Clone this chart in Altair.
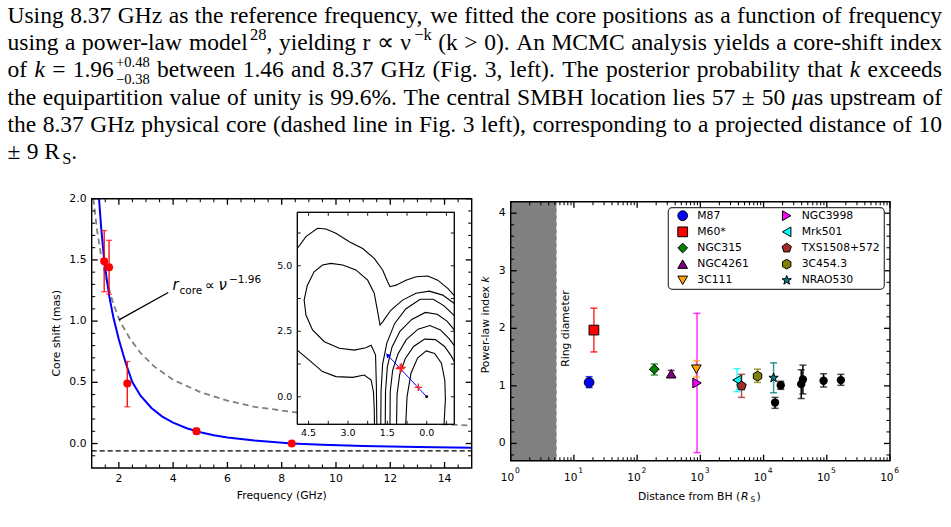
import altair as alt
import pandas as pd

SANS = "DejaVu Sans"
SERIF = "Liberation Serif, Tinos, Times New Roman, Nimbus Roman, Nimbus Roman No9 L, Times, serif"

# ------------------------------------------------------------------ paragraph
para_lines = [
    [("Using 8.37 GHz as the reference frequency, we fitted the core positions as a function of frequency", "n")],
    [("using a power-law model", "n"), ("28", "sup"), (", yielding r \u221d \u03bd", "n"), ("\u2212k", "sup"),
     (" (k > 0). An MCMC analysis yields a core-shift index", "n")],
    [("of ", "n"), ("k", "i"), (" = 1.96", "n"), ("+0.48", "sup2"), ("\u22120.38", "sub2"),
     (" between 1.46 and 8.37 GHz (Fig. 3, left). The posterior probability that ", "n"), ("k", "i"), (" exceeds", "n")],
    [("the equipartition value of unity is 99.6%. The central SMBH location lies 57 \u00b1 50 ", "n"), ("\u03bc", "i"),
     ("as upstream of", "n")],
    [("the 8.37 GHz physical core (dashed line in Fig. 3 left), corresponding to a projected distance of 10", "n")],
    [("\u00b1 9 R", "n"), ("S", "sub"), (".", "n")],
]

# ------------------------------------------------------------------ left panel data
freq_ghz = [1.46, 1.64, 2.31, 4.86, 8.37]
core_shift = [1.49, 1.44, 0.49, 0.10, 0.00]
shift_lo = [1.24, 1.22, 0.30, 0.075, -0.008]
shift_hi = [1.74, 1.66, 0.67, 0.125, 0.008]

fit_x = [1.27, 1.35, 1.45, 1.55, 1.65, 1.8, 2.0, 2.25, 2.5, 2.8, 3.2, 3.6, 4.0, 4.5, 5.0, 5.5, 6.0, 7.0, 8.37, 9.5, 11.0, 13.0, 15.0]
fit_y = [2.00, 1.76, 1.52, 1.35, 1.20, 1.03, 0.85, 0.66, 0.50, 0.39, 0.29, 0.22, 0.17, 0.125, 0.092, 0.068, 0.050, 0.024, 0.0, -0.011, -0.021, -0.029, -0.035]

ref_x = [1.06, 1.2, 1.37, 1.6, 1.8, 2.04, 2.4, 2.8, 3.3, 4.0, 5.0, 6.0, 7.0, 8.0, 9.0, 10.0, 11.0, 12.0, 13.0, 14.0, 15.0]
ref_y = [2.00, 1.74, 1.50, 1.29, 1.14, 1.00, 0.86, 0.74, 0.63, 0.52, 0.42, 0.35, 0.30, 0.27, 0.24, 0.215, 0.197, 0.182, 0.168, 0.156, 0.147]

bh_offset = -0.06

# inset contours (RA offset, Dec offset in mas)
contours = {
    "A1": ([4.93, 4.60, 4.16, 3.84, 3.46, 2.95, 2.44, 2.00, 1.68, 1.49, 1.40, 1.17, 0.79, 0.41, -0.04, -0.42, -0.80, -1.05],
           [5.66, 6.11, 6.43, 6.40, 6.24, 5.92, 5.66, 5.28, 4.84, 4.39, 4.20, 4.26, 4.45, 4.58, 4.61, 4.45, 4.14, 3.86]),
    "A2": ([4.93, 4.48, 3.97, 3.46, 2.82, 2.38, 2.12, 2.03, 2.00, 1.99],
           [1.78, 1.40, 0.96, 0.77, 0.74, 0.83, 0.64, 0.19, -0.44, -1.05]),
    "B": ([1.90, 1.92, 1.95, 2.12, 2.32, 2.76, 3.33, 3.90, 4.35, 4.60, 4.67, 4.55, 4.29, 3.97, 3.65, 3.20, 2.70, 2.25,
           2.00, 1.87, 1.78, 1.68, 1.36, 0.92, 0.41, -0.10, -0.61, -1.05],
          [-1.05, 0.50, 1.60, 1.97, 1.87, 1.78, 1.85, 2.10, 2.55, 3.12, 3.69, 4.25, 4.77, 5.03, 5.09, 5.03, 4.84, 4.45,
           3.95, 3.25, 2.74, 2.86, 3.31, 3.69, 3.95, 4.03, 3.88, 3.56]),
    "C": ([1.75, 1.74, 1.68, 1.52, 1.22, 0.80, 0.25, -0.25, -0.65, -1.05],
          [-1.05, 0.2, 1.25, 2.05, 2.80, 3.35, 3.72, 3.72, 3.48, 3.10]),
    "D": ([1.58, 1.57, 1.50, 1.32, 1.02, 0.57, 0.05, -0.40, -0.78, -1.05],
          [-1.05, 0.2, 1.15, 1.90, 2.50, 2.95, 3.22, 3.15, 2.88, 2.55]),
    "E": ([1.40, 1.39, 1.30, 1.10, 0.78, 0.33, -0.12, -0.52, -0.85, -1.05],
          [-1.05, 0.2, 1.00, 1.62, 2.18, 2.58, 2.72, 2.55, 2.22, 1.95]),
    "F": ([1.15, 1.13, 1.03, 0.82, 0.50, 0.08, -0.33, -0.68, -0.92, -1.05],
          [-1.05, 0.1, 0.85, 1.45, 1.92, 2.20, 2.18, 1.92, 1.58, 1.35]),
    "G": ([0.80, 0.75, 0.60, 0.35, 0.02, -0.30, -0.56, -0.69, -0.71, -0.66],
          [-1.05, 0.0, 0.90, 1.48, 1.75, 1.65, 1.28, 0.62, -0.10, -1.05]),
}
arrow_x = [0.0, 1.49]
arrow_y = [0.0, 1.59]
cross_x = [1.01, 0.97, 0.32]
cross_y = [1.08, 1.12, 0.36]

# ------------------------------------------------------------------ right panel data
src_names = ["M87", "M60*", "NGC315", "NGC4261", "3C111", "NGC3998", "Mrk501", "TXS1508+572", "3C454.3", "NRAO530"]
src_dist = [17.4, 20.7, 187, 346, 865, 886, 3800, 4490, 8030, 14400]
src_k = [1.06, 1.97, 1.29, 1.21, 1.29, 1.05, 1.10, 1.00, 1.17, 1.14]
src_lo = [0.97, 1.59, 1.19, 1.16, 1.15, -0.16, 0.90, 0.80, 1.06, 0.88]
src_hi = [1.16, 2.35, 1.38, 1.27, 1.44, 2.26, 1.30, 1.20, 1.29, 1.40]

oth_dist = [15200, 18700, 39400, 41900, 89000, 167000]
oth_k = [0.71, 1.01, 1.03, 1.11, 1.09, 1.10]
oth_lo = [0.61, 0.94, 0.78, 0.86, 0.98, 1.01]
oth_hi = [0.80, 1.08, 1.28, 1.36, 1.21, 1.20]

ring_diameter = 5.35

src_color = {"M87": "#0000ff", "M60*": "#ff0000", "NGC315": "#008000", "NGC4261": "#800080", "3C111": "#ffa500",
             "NGC3998": "#ff00ff", "Mrk501": "#00ffff", "TXS1508+572": "#a52a2a", "3C454.3": "#808000",
             "NRAO530": "#008080"}
PENT = "M0,-1L0.951,-0.309L0.588,0.809L-0.588,0.809L-0.951,-0.309Z"
HEX = "M0,-1L0.866,-0.5L0.866,0.5L0,1L-0.866,0.5L-0.866,-0.5Z"
STAR = ("M0,-1L0.235,-0.324L0.951,-0.309L0.380,0.124L0.588,0.809L0,0.4L-0.588,0.809"
        "L-0.380,0.124L-0.951,-0.309L-0.235,-0.324Z")
src_shape = {"M87": "circle", "M60*": "square", "NGC315": "diamond", "NGC4261": "triangle-up",
             "3C111": "triangle-down", "NGC3998": "triangle-right", "Mrk501": "triangle-left",
             "TXS1508+572": PENT, "3C454.3": HEX, "NRAO530": STAR}

# ------------------------------------------------------------------ paragraph layout
TW = {' ': 250, '%': 833, '(': 333, ')': 333, '+': 564, ',': 250, '-': 333, '.': 250, '=': 564, '>': 564,
      'A': 722, 'B': 667, 'C': 667, 'D': 722, 'E': 611, 'F': 556, 'G': 722, 'H': 722, 'I': 333, 'J': 389,
      'K': 722, 'L': 611, 'M': 889, 'N': 722, 'O': 722, 'P': 556, 'Q': 722, 'R': 667, 'S': 556, 'T': 611,
      'U': 722, 'V': 722, 'W': 944, 'X': 722, 'Y': 722, 'Z': 611,
      'a': 444, 'b': 500, 'c': 444, 'd': 500, 'e': 444, 'f': 333, 'g': 500, 'h': 500, 'i': 278, 'j': 278,
      'k': 500, 'l': 278, 'm': 778, 'n': 500, 'o': 500, 'p': 500, 'q': 500, 'r': 333, 's': 389, 't': 278,
      'u': 500, 'v': 500, 'w': 722, 'x': 500, 'y': 500, 'z': 444,
      '\u00b1': 564, '\u2212': 564, '\u221d': 713, '\u03bd': 500, '\u03bc': 500}
FS = 23.5
LEFT, RIGHT = 7.5, 942.0
BASE0, LEAD = 23.0, 27.2
SCRIPT_GAP = 2.2
STY = {"n": (1.0, 0.0), "i": (1.0, 0.0), "sup": (0.7, 0.42), "sup2": (0.62, 0.45), "sub2": (0.62, -0.27),
       "sub": (0.7, -0.2)}


def cw(ch, st):
    if st == "i" and ch == "k":
        return 444
    return TW.get(ch, 500)


rows = []
for li, line in enumerate(para_lines):
    words = [[]]
    for txt, st in line:
        parts = txt.split(" ")
        for j, p in enumerate(parts):
            if j > 0:
                words.append([])
            if p:
                words[-1].append((p, st))
    words = [w for w in words if w]
    laid = []
    for w in words:
        x = 0.0
        pcs = []
        sx = 0.0
        for p, st in w:
            sc, rise = STY[st]
            pw = sum(cw(c, st) for c in p) / 1000.0 * FS * sc
            if st in ("sup", "sup2", "sub") and x > 0:
                x += SCRIPT_GAP
            if st == "sub2":
                pcs.append((sx, p, st))
                x = max(x, sx + pw)
            else:
                pcs.append((x, p, st))
                sx = x
                x += pw
        laid.append((pcs, x))
    total = sum(wd for _, wd in laid)
    justify = li < len(para_lines) - 1
    gap = (RIGHT - LEFT - total) / (len(laid) - 1) if justify else 0.25 * FS
    cx = LEFT
    base = BASE0 + li * LEAD
    for pcs, wd in laid:
        for px_, p, st in pcs:
            sc, rise = STY[st]
            rows.append(dict(x=cx + px_, y=base - rise * FS, size=FS * sc, t=p, it=1 if st == "i" else 0))
        cx += wd + gap

para_df = pd.DataFrame(rows)


def para_layer(df, style):
    return alt.Chart(df).mark_text(align="left", baseline="alphabetic", font=SERIF, fontStyle=style,
                                   color="black").encode(
        x=alt.X("x:Q", scale=None, axis=None), y=alt.Y("y:Q", scale=None, axis=None),
        size=alt.Size("size:Q", scale=None, legend=None), text="t:N")


para_n = para_layer(para_df[para_df.it == 0], "normal")
para_i = para_layer(para_df[para_df.it == 1], "italic")


def ptext(items, **mk):
    df = pd.DataFrame(items, columns=["x", "y", "t"])
    return alt.Chart(df).mark_text(color="black", **mk).encode(
        x=alt.X("x:Q", scale=None, axis=None), y=alt.Y("y:Q", scale=None, axis=None), text="t:N")


# ------------------------------------------------------------------ helpers
def tick_layers(xsc, ysc, box, xmaj, xmin, ymaj, ymin, lmaj, lmin, w):
    l, r, t, b = box
    out = []
    for vals, L, sw in ((xmaj, lmaj, w), (xmin, lmin, w * 0.8)):
        if not vals:
            continue
        src = alt.Chart(pd.DataFrame({"v": vals}))
        enc = alt.X("v:Q", scale=xsc, axis=None)
        out.append(src.mark_rule(color="black", strokeWidth=sw).encode(x=enc, y=alt.value(b), y2=alt.value(b - L)))
        out.append(src.mark_rule(color="black", strokeWidth=sw).encode(x=enc, y=alt.value(t), y2=alt.value(t + L)))
    for vals, L, sw in ((ymaj, lmaj, w), (ymin, lmin, w * 0.8)):
        if not vals:
            continue
        src = alt.Chart(pd.DataFrame({"v": vals}))
        enc = alt.Y("v:Q", scale=ysc, axis=None)
        out.append(src.mark_rule(color="black", strokeWidth=sw).encode(y=enc, x=alt.value(l), x2=alt.value(l + L)))
        out.append(src.mark_rule(color="black", strokeWidth=sw).encode(y=enc, x=alt.value(r), x2=alt.value(r - L)))
    return out


def xlabels(vals, texts, xsc, ypx, fs, **mk):
    df = pd.DataFrame({"v": vals, "t": texts})
    return alt.Chart(df).mark_text(font=SANS, fontSize=fs, color="black", baseline="middle", **mk).encode(
        x=alt.X("v:Q", scale=xsc, axis=None), y=alt.value(ypx), text="t:N")


def ylabels(vals, texts, ysc, xpx, fs):
    df = pd.DataFrame({"v": vals, "t": texts})
    return alt.Chart(df).mark_text(font=SANS, fontSize=fs, color="black", align="right", baseline="middle").encode(
        y=alt.Y("v:Q", scale=ysc, axis=None), x=alt.value(xpx), text="t:N")


def frame(xsc, ysc, x1, x2, y1, y2, sw, fill=None):
    df = pd.DataFrame({"x1": [x1], "x2": [x2], "y1": [y1], "y2": [y2]})
    if fill:
        mk = alt.Chart(df).mark_rect(fill=fill, stroke="black", strokeWidth=sw)
    else:
        mk = alt.Chart(df).mark_rect(fillOpacity=0, stroke="black", strokeWidth=sw)
    return mk.encode(x=alt.X("x1:Q", scale=xsc, axis=None), x2="x2:Q",
                     y=alt.Y("y1:Q", scale=ysc, axis=None), y2="y2:Q")


# ------------------------------------------------------------------ left panel
LB = (91.7, 471.7, 198.7, 468.0)
LX = alt.Scale(domain=[1, 15], range=[LB[0], LB[1]], nice=False, zero=False)
LY = alt.Scale(domain=[-0.2, 2.0], range=[LB[3], LB[2]], nice=False, zero=False)

ref_line = alt.Chart(pd.DataFrame({"x": ref_x, "y": ref_y})).mark_line(
    color="#808080", strokeWidth=1.8, strokeDash=[6, 4]).encode(
    x=alt.X("x:Q", scale=LX, axis=None), y=alt.Y("y:Q", scale=LY, axis=None))
bh_line = alt.Chart(pd.DataFrame({"x1": [1], "x2": [15], "y": [bh_offset]})).mark_rule(
    color="black", strokeWidth=1.4, strokeDash=[5, 3]).encode(
    x=alt.X("x1:Q", scale=LX, axis=None), x2="x2:Q", y=alt.Y("y:Q", scale=LY, axis=None))
fit_line = alt.Chart(pd.DataFrame({"x": fit_x, "y": fit_y})).mark_line(color="#0000ff", strokeWidth=2).encode(
    x=alt.X("x:Q", scale=LX, axis=None), y=alt.Y("y:Q", scale=LY, axis=None))
ldf = pd.DataFrame({"f": freq_ghz, "s": core_shift, "lo": shift_lo, "hi": shift_hi})
l_err = alt.Chart(ldf).mark_rule(color="#ff0000", strokeWidth=1.3).encode(
    x=alt.X("f:Q", scale=LX, axis=None), y=alt.Y("lo:Q", scale=LY, axis=None), y2="hi:Q")
lcap = pd.DataFrame({"f": freq_ghz * 2, "v": shift_lo + shift_hi})
l_caps = alt.Chart(lcap).mark_tick(orient="horizontal", size=6, thickness=1.3, color="#ff0000").encode(
    x=alt.X("f:Q", scale=LX, axis=None), y=alt.Y("v:Q", scale=LY, axis=None))
l_pts = alt.Chart(ldf).mark_circle(color="#ff0000", size=64, opacity=1).encode(
    x=alt.X("f:Q", scale=LX, axis=None), y=alt.Y("s:Q", scale=LY, axis=None))
ann_line = alt.Chart(pd.DataFrame({"x": [3.82, 2.006], "y": [1.234, 1.01]})).mark_line(
    color="black", strokeWidth=1.3).encode(x=alt.X("x:Q", scale=LX, axis=None), y=alt.Y("y:Q", scale=LY, axis=None))
ann_r = ptext([(172.5, 290, "r")], font=SANS, fontSize=15, fontStyle="italic", align="left", baseline="alphabetic")
ann_core = ptext([(179.5, 293.5, "core")], font=SANS, fontSize=10.5, align="left", baseline="alphabetic")
ann_prop = ptext([(205, 290, "\u221d")], font=SANS, fontSize=14, align="left", baseline="alphabetic")
ann_nu = ptext([(218.5, 290, "\u03bd")], font=SANS, fontSize=15, fontStyle="italic", align="left", baseline="alphabetic")
ann_exp = ptext([(229, 283, "\u22121.96")], font=SANS, fontSize=10.5, align="left", baseline="alphabetic")

lx_major = [2, 4, 6, 8, 10, 12, 14]
lx_minor = [v / 2 for v in range(3, 30) if v % 4 != 0]
ly_major = [0.0, 0.5, 1.0, 1.5, 2.0]
ly_minor = [v / 10 for v in range(-1, 20) if v % 5 != 0]
l_ticks = tick_layers(LX, LY, LB, lx_major, lx_minor, ly_major, ly_minor, 6, 3.5, 1.3)
l_xlab = xlabels(lx_major, [str(v) for v in lx_major], LX, 479, 10.8, align="center")
l_ylab = ylabels(ly_major, ["0.0", "0.5", "1.0", "1.5", "2.0"], LY, 86.5, 10.8)
l_xtitle = ptext([(281.7, 496, "Frequency (GHz)")], font=SANS, fontSize=10.8, align="center", baseline="middle")
l_ytitle = ptext([(56.7, 333.3, "Core shift (mas)")], font=SANS, fontSize=10.8, align="center", baseline="middle",
                 angle=270)

left_main = alt.layer(ref_line, bh_line, fit_line, l_err, l_caps, l_pts, ann_line, ann_r, ann_core, ann_prop,
                      ann_nu, ann_exp, frame(LX, LY, 1, 15, -0.2, 2.0, 1.4), *l_ticks, l_xlab, l_ylab)

# inset
IB = (297.3, 454.3, 212.3, 424.3)
IX = alt.Scale(domain=[4.93, -1.05], range=[IB[0], IB[1]], nice=False, zero=False)
IY = alt.Scale(domain=[-1.05, 7.04], range=[IB[3], IB[2]], nice=False, zero=False)
crow = []
for name, (xs, ys) in contours.items():
    for i, (a, b) in enumerate(zip(xs, ys)):
        crow.append(dict(c=name, i=i, x=a, y=b))
cont = alt.Chart(pd.DataFrame(crow)).mark_line(color="black", strokeWidth=1.1).encode(
    x=alt.X("x:Q", scale=IX, axis=None), y=alt.Y("y:Q", scale=IY, axis=None), detail="c:N", order="i:Q")
adf = pd.DataFrame({"x": arrow_x, "y": arrow_y, "i": [0, 1]})
arrow = alt.Chart(adf).mark_line(color="#0000ff", strokeWidth=1).encode(
    x=alt.X("x:Q", scale=IX, axis=None), y=alt.Y("y:Q", scale=IY, axis=None), order="i:Q")
arrow_head = alt.Chart(adf.iloc[[1]]).mark_point(shape="triangle-up", filled=True, color="#0000ff", size=28,
                                                 angle=317, opacity=1).encode(
    x=alt.X("x:Q", scale=IX, axis=None), y=alt.Y("y:Q", scale=IY, axis=None))
core_dot = alt.Chart(adf.iloc[[0]]).mark_circle(color="black", size=8, opacity=1).encode(
    x=alt.X("x:Q", scale=IX, axis=None), y=alt.Y("y:Q", scale=IY, axis=None))
cdf = pd.DataFrame({"x": cross_x, "y": cross_y, "s": [81, 81, 56]})
crosses = alt.Chart(cdf).mark_point(shape="M-1,0L1,0M0,-1L0,1", filled=False, color="#ff2020", strokeWidth=1.3,
                                    opacity=1).encode(
    x=alt.X("x:Q", scale=IX, axis=None), y=alt.Y("y:Q", scale=IY, axis=None),
    size=alt.Size("s:Q", scale=None, legend=None))
ix_ticks = [4.5, 3.75, 3.0, 2.25, 1.5, 0.75, 0.0, -0.75]
iy_ticks = [0.0, 1.25, 2.5, 3.75, 5.0, 6.25]
i_ticks = tick_layers(IX, IY, IB, ix_ticks, [], iy_ticks, [], 3.5, 3.5, 0.9)
i_xlab = xlabels([4.5, 3.0, 1.5, 0.0], ["4.5", "3.0", "1.5", "0.0"], IX, 432.7, 9.5, align="center")
i_ylab = ylabels([5.0, 2.5, 0.0], ["5.0", "2.5", "0.0"], IY, 292.3, 9.5)
inset = alt.layer(frame(IX, IY, 4.93, -1.05, -1.05, 7.04, 1.0, fill="white"), cont, arrow, arrow_head, core_dot,
                  crosses, frame(IX, IY, 4.93, -1.05, -1.05, 7.04, 1.0), *i_ticks, i_xlab, i_ylab)

left_group = alt.layer(left_main, inset, l_xtitle, l_ytitle).resolve_scale(x="independent", y="independent",
                                                                          size="independent")

# ------------------------------------------------------------------ right panel
RB = (510.7, 890.0, 201.7, 460.7)
RX = alt.Scale(type="log", domain=[1, 1e6], range=[RB[0], RB[1]], nice=False, zero=False)
RY = alt.Scale(domain=[-0.3, 4.2], range=[RB[3], RB[2]], nice=False, zero=False)

ring = alt.Chart(pd.DataFrame({"x1": [1], "x2": [ring_diameter], "y1": [-0.3], "y2": [4.2]})).mark_rect(
    color="#808080").encode(x=alt.X("x1:Q", scale=RX, axis=None), x2="x2:Q",
                            y=alt.Y("y1:Q", scale=RY, axis=None), y2="y2:Q")
ring_edge = alt.Chart(pd.DataFrame({"x": [ring_diameter], "y1": [-0.3], "y2": [4.2]})).mark_rule(
    color="#e6e6e6", strokeWidth=1, strokeDash=[4, 3]).encode(
    x=alt.X("x:Q", scale=RX, axis=None), y=alt.Y("y1:Q", scale=RY, axis=None), y2="y2:Q")
ring_txt = ptext([(566, 328.5, "Ring diameter")], font=SANS, fontSize=10.8, align="center", baseline="middle",
                 angle=270)

CS = alt.Scale(domain=src_names, range=[src_color[n] for n in src_names])
SS = alt.Scale(domain=src_names, range=[src_shape[n] for n in src_names])
sdf = pd.DataFrame({"name": src_names, "d": src_dist, "k": src_k, "lo": src_lo, "hi": src_hi,
                    "col": [src_color[n] for n in src_names]})
s_err = alt.Chart(sdf).mark_rule(strokeWidth=1.5, opacity=0.8).encode(
    x=alt.X("d:Q", scale=RX, axis=None), y=alt.Y("lo:Q", scale=RY, axis=None), y2="hi:Q",
    color=alt.Color("col:N", scale=None))
scap = pd.DataFrame({"col": sdf["col"].tolist() * 2, "d": src_dist * 2, "v": src_lo + src_hi})
s_caps = alt.Chart(scap).mark_tick(orient="horizontal", size=7, thickness=1.5, opacity=0.8).encode(
    x=alt.X("d:Q", scale=RX, axis=None), y=alt.Y("v:Q", scale=RY, axis=None),
    color=alt.Color("col:N", scale=None))
odf = pd.DataFrame({"d": oth_dist, "k": oth_k, "lo": oth_lo, "hi": oth_hi})
o_err = alt.Chart(odf).mark_rule(strokeWidth=1.5, color="black").encode(
    x=alt.X("d:Q", scale=RX, axis=None), y=alt.Y("lo:Q", scale=RY, axis=None), y2="hi:Q")
ocap = pd.DataFrame({"d": oth_dist * 2, "v": oth_lo + oth_hi})
o_caps = alt.Chart(ocap).mark_tick(orient="horizontal", size=7, thickness=1.5, color="black").encode(
    x=alt.X("d:Q", scale=RX, axis=None), y=alt.Y("v:Q", scale=RY, axis=None))
o_pts = alt.Chart(odf).mark_circle(color="black", size=70, opacity=1).encode(
    x=alt.X("d:Q", scale=RX, axis=None), y=alt.Y("k:Q", scale=RY, axis=None))
s_pts = alt.Chart(sdf).mark_point(filled=True, stroke="black", strokeWidth=1, size=95, opacity=1).encode(
    x=alt.X("d:Q", scale=RX, axis=None), y=alt.Y("k:Q", scale=RY, axis=None),
    color=alt.Color("name:N", scale=CS, legend=None), shape=alt.Shape("name:N", scale=SS, legend=None))

# legend (two columns, five rows, drawn inside the right panel)
LEG_BOX = (668.3, 884.3, 207.7, 289.3)
LEG_SYM_X = (682.7, 786.7)
LEG_LAB_X = (697.3, 801.7)
LEG_ROW0, LEG_ROW_DY = 215.7, 16.15
lrows = []
for idx, n in enumerate(src_names):
    c, r = divmod(idx, 5)
    lrows.append(dict(name=n, sx=LEG_SYM_X[c], lx=LEG_LAB_X[c], y=LEG_ROW0 + r * LEG_ROW_DY))
legdf = pd.DataFrame(lrows)
leg_box = alt.Chart(pd.DataFrame({"a": [0]})).mark_rect(
    fill="white", stroke="#3a3a3a", strokeWidth=1.2, cornerRadius=4).encode(
    x=alt.value(LEG_BOX[0]), x2=alt.value(LEG_BOX[1]), y=alt.value(LEG_BOX[2]), y2=alt.value(LEG_BOX[3]))
leg_sym = alt.Chart(legdf).mark_point(filled=True, stroke="black", strokeWidth=1, size=95, opacity=1).encode(
    x=alt.X("sx:Q", scale=None, axis=None), y=alt.Y("y:Q", scale=None, axis=None),
    color=alt.Color("name:N", scale=CS, legend=None), shape=alt.Shape("name:N", scale=SS, legend=None))
leg_lab = alt.Chart(legdf).mark_text(font=SANS, fontSize=10.8, color="black", align="left",
                                     baseline="middle").encode(
    x=alt.X("lx:Q", scale=None, axis=None), y=alt.Y("y:Q", scale=None, axis=None), text="name:N")

rx_major = [1, 10, 100, 1000, 10000, 100000, 1000000]
rx_minor = [m * 10 ** e for e in range(0, 6) for m in range(2, 10)]
ry_major = [0, 1, 2, 3, 4]
ry_minor = [v / 5 for v in range(-1, 21) if v % 5 != 0]
r_ticks = tick_layers(RX, RY, RB, rx_major, rx_minor, ry_major, ry_minor, 6, 3.5, 1.3)
r_xlab_base = xlabels(rx_major, ["10"] * 7, RX, 477.5, 10.5, align="right", dx=3.5)
r_xlab_exp = xlabels(rx_major, [str(i) for i in range(7)], RX, 470.5, 7.6, align="left", dx=4.3)
r_ylab = ylabels(ry_major, [str(v) for v in ry_major], RY, 505.5, 10.8)
r_xtitle = alt.layer(
    ptext([(740.3, 499.5, "Distance from BH (")], font=SANS, fontSize=10.8, align="right", baseline="alphabetic"),
    ptext([(741.0, 499.5, "R")], font=SANS, fontSize=10.8, fontStyle="italic", align="left", baseline="alphabetic"),
    ptext([(750.5, 502.0, "S")], font=SANS, fontSize=7.6, align="left", baseline="alphabetic"),
    ptext([(756.5, 499.5, ")")], font=SANS, fontSize=10.8, align="left", baseline="alphabetic"),
)
r_ytitle = alt.layer(
    ptext([(488.5, 286.0, "Power-law index")], font=SANS, fontSize=10.8, align="right",
          baseline="alphabetic", angle=270),
    ptext([(488.5, 282.4, "k")], font=SANS, fontSize=10.8, fontStyle="italic", align="left",
          baseline="alphabetic", angle=270),
)

right_main = alt.layer(ring, ring_edge, s_err, s_caps, o_err, o_caps, o_pts, s_pts,
                       frame(RX, RY, 1, 1e6, -0.3, 4.2, 1.4), *r_ticks, r_xlab_base, r_xlab_exp, r_ylab,
                       leg_box, leg_sym, leg_lab)
right_group = alt.layer(right_main, ring_txt, r_xtitle, r_ytitle).resolve_scale(x="independent", y="independent")

chart = alt.layer(para_n, para_i, left_group, right_group).resolve_scale(
    x="independent", y="independent", size="independent", color="independent", shape="independent"
).properties(
    width=951, height=527, padding=0, autosize=alt.AutoSizeParams(type="none"), background="white"
).configure_view(strokeOpacity=0)

chart.save("out.html", embed_options={"renderer": "svg", "actions": False})
